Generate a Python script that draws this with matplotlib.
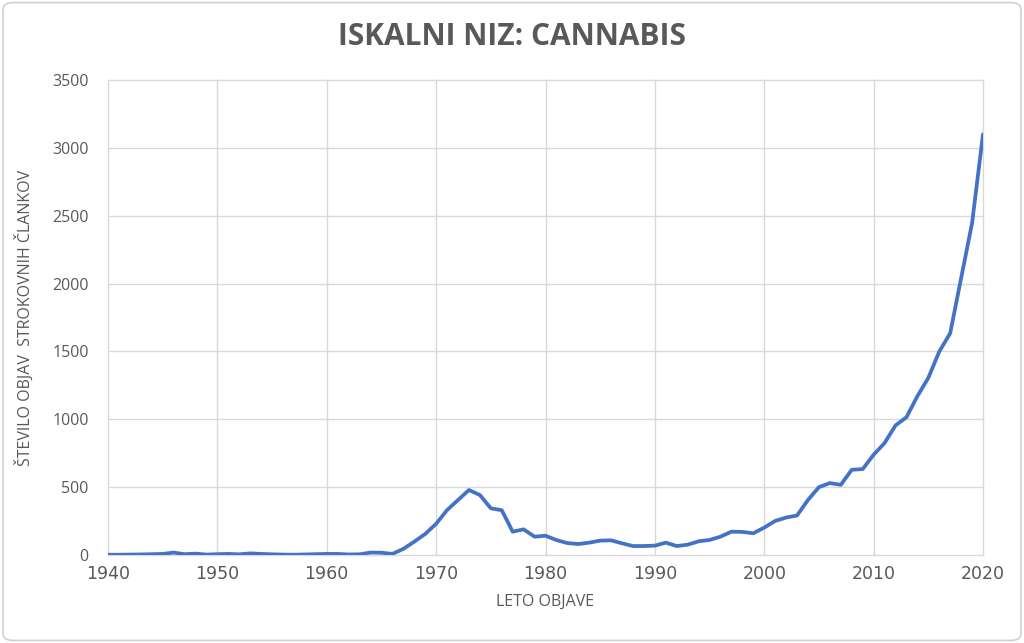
import matplotlib
matplotlib.use("Agg")
import matplotlib.pyplot as plt
from matplotlib.patches import FancyBboxPatch

# ── data ─────────────────────────────────────────────────────────────
years = list(range(1940, 2021))
counts = [
    2, 2, 3, 4, 6, 8, 18, 6, 10, 3,            # 1940-1949
    6, 8, 5, 12, 8, 5, 3, 2, 4, 6,             # 1950-1959
    8, 8, 4, 5, 18, 17, 8, 45, 98, 155,        # 1960-1969
    230, 331, 405, 479, 442, 344, 330, 172, 189, 135,   # 1970-1979
    142, 110, 88, 81, 91, 106, 108, 86, 66, 66,          # 1980-1989
    69, 91, 66, 76, 101, 111, 135, 172, 170, 160,        # 1990-1999
    202, 251, 276, 291, 406, 500, 530, 517, 628, 633,    # 2000-2009
    739, 825, 955, 1015, 1170, 1305, 1499, 1634, 2040, 2445,  # 2010-2019
    3100,                                                 # 2020
]
x_ticks = list(range(1940, 2021, 10))
y_ticks = list(range(0, 3501, 500))

title = "ISKALNI NIZ: CANNABIS"
x_label = "LETO OBJAVE"
y_label = "ŠTEVILO OBJAV  STROKOVNIH ČLANKOV"

TEXT = "#595959"
GRID = "#d9d9d9"
LINE = "#4472C4"

# ── plot ─────────────────────────────────────────────────────────────
plt.rcParams["font.family"] = ["Open Sans", "DejaVu Sans"]

fig = plt.figure(figsize=(10.24, 6.43), dpi=100)
ax = fig.add_axes([108 / 1024, 1 - 555 / 643, 875 / 1024, 475 / 643])

ax.plot(years, counts, color=LINE, linewidth=2.7,
        solid_joinstyle="round", solid_capstyle="round", zorder=3)

ax.set_xlim(1940, 2020)
ax.set_ylim(0, 3500)
ax.set_xticks(x_ticks)
ax.set_yticks(y_ticks)
ax.tick_params(length=0, colors=TEXT)
ax.tick_params(axis="y", labelsize=11.5, pad=14)
ax.tick_params(axis="x", labelsize=12.5, pad=7)
for lbl in ax.get_xticklabels():
    lbl.set_fontfamily(["DejaVu Sans"])
for s in ax.spines.values():
    s.set_visible(False)
ax.grid(True, color=GRID, linewidth=1.0, zorder=0)
for gl in ax.get_xgridlines() + ax.get_ygridlines():
    gl.set_clip_on(False)

ax.set_xlabel(x_label, fontsize=11.5, color=TEXT, labelpad=8)
ax.set_ylabel(y_label, fontsize=11.5, color=TEXT, labelpad=13)

fig.text(0.5, 1 - 37 / 643, title, ha="center", va="center",
         fontsize=21.5, fontweight="bold", color=TEXT)

# light border round the chart area
border = FancyBboxPatch((0.003, 0.004), 0.994, 0.992,
                        boxstyle="round,pad=0,rounding_size=0.01",
                        transform=fig.transFigure, fill=False,
                        edgecolor="#d0d0d0", linewidth=1.2)
fig.patches.append(border)

fig.savefig("out.png", dpi=100)
